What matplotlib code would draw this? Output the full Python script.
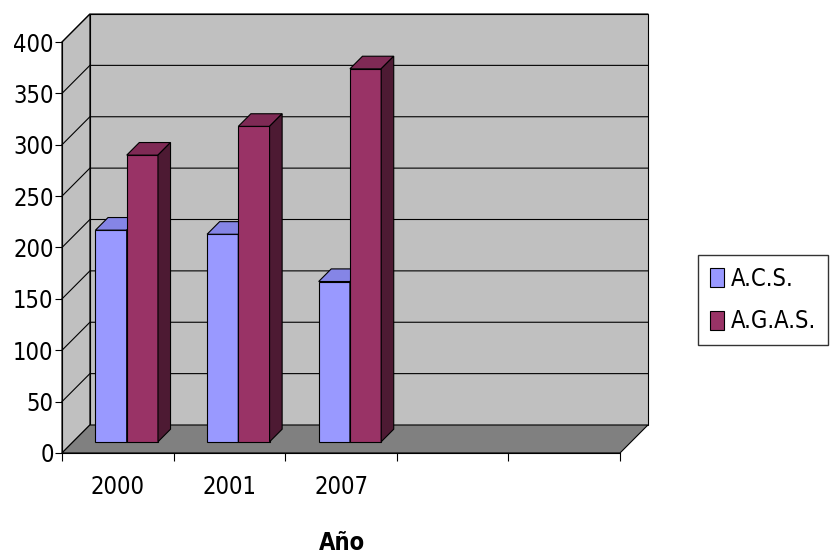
import matplotlib
matplotlib.use('Agg')
import matplotlib.pyplot as plt
from matplotlib.patches import Polygon, Rectangle

plt.rcParams['font.family'] = ['DejaVu Sans']
plt.rcParams['font.stretch'] = 'condensed'

years = ['2000', '2001', '2007']
acs = [206, 202, 156]
agas = [279, 307, 363]
series = [('A.C.S.', acs, '#9999FF', '#8585e6', '#5c5c99'),
          ('A.G.A.S.', agas, '#993366', '#7f2a55', '#4d1a33')]

n_slots = 5
dx, dy = 0.25, 27.25      # depth offset of back wall, data units
z0, z1 = 0.4, 0.85        # bar depth range (fraction of full depth)
bw = 0.28

fig = plt.figure(figsize=(8.3, 5.55), dpi=100)
ax = fig.add_axes([62 / 830, (555 - 453) / 555, (620 - 62) / 830, (453 - 42) / 555])
ax.set_xlim(0, n_slots)
ax.set_ylim(0, 400)

wall = '#C0C0C0'
# back wall, left wall, floor
ax.add_patch(Rectangle((dx, dy), n_slots, 400, fc=wall, ec='black', lw=0.8, clip_on=False, zorder=0))
ax.add_patch(Polygon([(0, 0), (dx, dy), (dx, 400 + dy), (0, 400)], fc=wall, ec='black', lw=0.8,
                     clip_on=False, zorder=0))
ax.add_patch(Polygon([(0, 0), (n_slots, 0), (n_slots + dx, dy), (dx, dy)], fc='#808080', ec='black',
                     lw=0.8, clip_on=False, zorder=1))
for v in range(50, 401, 50):
    ax.plot([0, dx, n_slots + dx], [v, v + dy, v + dy], color='black', lw=0.8, clip_on=False, zorder=0.5)


def bar3d(x, v, front, top, side):
    fx, fy = x + z0 * dx, z0 * dy
    bx, by = x + z1 * dx, z1 * dy
    ax.add_patch(Polygon([(fx, fy), (fx + bw, fy), (fx + bw, fy + v), (fx, fy + v)], fc=front, ec='black',
                         lw=0.8, clip_on=False, zorder=3))
    ax.add_patch(Polygon([(fx, fy + v), (fx + bw, fy + v), (bx + bw, by + v), (bx, by + v)], fc=top,
                         ec='black', lw=0.8, clip_on=False, zorder=3))
    ax.add_patch(Polygon([(fx + bw, fy), (bx + bw, by), (bx + bw, by + v), (fx + bw, fy + v)], fc=side,
                         ec='black', lw=0.8, clip_on=False, zorder=3))


for i in range(len(years)):
    for j, (name, vals, front, top, side) in enumerate(series):
        bar3d(i + 0.2 + j * bw, vals[i], front, top, side)

ax.spines['top'].set_visible(False)
ax.spines['right'].set_visible(False)
ax.set_yticks(range(0, 401, 50))
ax.tick_params(axis='y', labelsize=17, length=5, pad=1)
ax.set_xticks(range(n_slots + 1), minor=False)
ax.set_xticklabels([])
ax.set_xticks([i + 0.5 for i in range(len(years))], minor=True)
ax.set_xticklabels(years, minor=True)
ax.tick_params(axis='x', which='major', length=6, direction='out')
ax.tick_params(axis='x', which='minor', length=0, labelsize=17, pad=16)
fig.text(342 / 830, 1 - 543 / 555, 'Año', fontsize=17, fontweight='bold', ha='center', va='center')

handles = [Rectangle((0, 0), 1, 1, fc=s[2], ec='black', lw=0.8) for s in series]
fig.legend(handles, [s[0] for s in series], loc='center left', bbox_to_anchor=(698 / 830, 1 - 300 / 555),
           fontsize=17, frameon=True, fancybox=False, edgecolor='black', handlelength=0.6,
           handleheight=0.9, handletextpad=0.3, labelspacing=0.8, borderpad=0.5, borderaxespad=0)

fig.savefig('out.png', dpi=100)
